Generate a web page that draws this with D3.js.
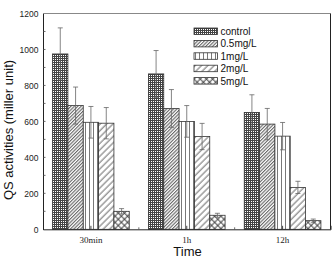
<!DOCTYPE html>
<html>
<head>
<meta charset="utf-8">
<script src="https://cdn.jsdelivr.net/npm/d3@7"></script>
<style>
  body { margin: 0; background: #fff; }
  svg { display: block; }
</style>
</head>
<body>
<div class="container"></div>
<script>
const width = 334;
const height = 265;

// data
const categories = ["30min", "1h", "12h"];
const series = ["control", "0.5mg/L", "1mg/L", "2mg/L", "5mg/L"];
const control = [975, 864, 650];
const mg05 = [688, 672, 585];
const mg1 = [595, 600, 518];
const mg2 = [590, 516, 233];
const mg5 = [100, 78, 48];
const controlErr = [145, 130, 98];
const mg05Err = [103, 105, 87];
const mg1Err = [88, 88, 76];
const mg2Err = [87, 73, 34];
const mg5Err = [15, 11, 9];
const yTicks = [0, 200, 400, 600, 800, 1000, 1200];

const values = [control, mg05, mg1, mg2, mg5];
const errors = [controlErr, mg05Err, mg1Err, mg2Err, mg5Err];
const patIds = ["pGrid", "pDense", "pVert", "pSparse", "pCross"];

const plot = {left: 43, right: 330.5, top: 13.5, bottom: 229.3};

const svg = d3.select(".container")
    .append("svg")
    .attr("width", width)
    .attr("height", height);

// hatch patterns
const defs = svg.append("defs");

let p = defs.append("pattern").attr("id", "pGrid")
    .attr("patternUnits", "userSpaceOnUse").attr("width", 2).attr("height", 2);
p.append("rect").attr("width", 2).attr("height", 2).attr("fill", "#fff");
p.append("rect").attr("width", 1).attr("height", 2).attr("fill", "#444");
p.append("rect").attr("width", 2).attr("height", 1).attr("fill", "#444");

p = defs.append("pattern").attr("id", "pDense")
    .attr("patternUnits", "userSpaceOnUse").attr("width", 2.4).attr("height", 2.4)
    .attr("patternTransform", "rotate(45)");
p.append("rect").attr("width", 2.4).attr("height", 2.4).attr("fill", "#fff");
p.append("line").attr("x1", 0.6).attr("y1", 0).attr("x2", 0.6).attr("y2", 2.4)
    .attr("stroke", "#444").attr("stroke-width", 0.9);

p = defs.append("pattern").attr("id", "pVert")
    .attr("patternUnits", "userSpaceOnUse").attr("width", 4).attr("height", 4);
p.append("rect").attr("width", 4).attr("height", 4).attr("fill", "#fff");
p.append("line").attr("x1", 1.5).attr("y1", 0).attr("x2", 1.5).attr("y2", 4)
    .attr("stroke", "#555").attr("stroke-width", 0.8);

p = defs.append("pattern").attr("id", "pSparse")
    .attr("patternUnits", "userSpaceOnUse").attr("width", 4.5).attr("height", 4.5)
    .attr("patternTransform", "rotate(45)");
p.append("rect").attr("width", 4.5).attr("height", 4.5).attr("fill", "#fff");
p.append("line").attr("x1", 1).attr("y1", 0).attr("x2", 1).attr("y2", 4.5)
    .attr("stroke", "#444").attr("stroke-width", 0.8);

p = defs.append("pattern").attr("id", "pCross")
    .attr("patternUnits", "userSpaceOnUse").attr("width", 4.4).attr("height", 4.4)
    .attr("patternTransform", "rotate(45)");
p.append("rect").attr("width", 4.4).attr("height", 4.4).attr("fill", "#fff");
p.append("line").attr("x1", 1).attr("y1", 0).attr("x2", 1).attr("y2", 4.4)
    .attr("stroke", "#333").attr("stroke-width", 0.9);
p.append("line").attr("x1", 0).attr("y1", 1).attr("x2", 4.4).attr("y2", 1)
    .attr("stroke", "#333").attr("stroke-width", 0.9);

const x0 = d3.scaleBand()
    .domain(categories)
    .range([plot.left, plot.right])
    .paddingInner(0.2)
    .paddingOuter(0.1);

const x1 = d3.scaleBand()
    .domain(series)
    .range([0, x0.bandwidth()]);

const y = d3.scaleLinear()
    .domain([0, 1200])
    .range([plot.bottom, plot.top]);

// bars
const rows = [];
series.forEach((s, i) => {
    categories.forEach((c, j) => {
        rows.push({s: s, c: c, v: values[i][j], e: errors[i][j], pat: patIds[i]});
    });
});

const g = svg.append("g");

g.selectAll("rect.bar")
    .data(rows)
    .enter()
    .append("rect")
    .attr("class", "bar")
    .attr("x", d => x0(d.c) + x1(d.s))
    .attr("y", d => y(d.v))
    .attr("width", x1.bandwidth())
    .attr("height", d => y(0) - y(d.v))
    .attr("fill", d => `url(#${d.pat})`)
    .attr("stroke", "#333")
    .attr("stroke-width", 0.8);

// error bars
const eb = g.selectAll("g.err")
    .data(rows)
    .enter()
    .append("g")
    .attr("class", "err")
    .attr("stroke", "#666")
    .attr("stroke-width", 0.8);

const cx = d => x0(d.c) + x1(d.s) + x1.bandwidth() / 2;
eb.append("line")
    .attr("x1", cx).attr("x2", cx)
    .attr("y1", d => y(d.v - d.e)).attr("y2", d => y(d.v + d.e));
eb.append("line")
    .attr("x1", d => cx(d) - 2.5).attr("x2", d => cx(d) + 2.5)
    .attr("y1", d => y(d.v + d.e)).attr("y2", d => y(d.v + d.e));
eb.append("line")
    .attr("x1", d => cx(d) - 2.5).attr("x2", d => cx(d) + 2.5)
    .attr("y1", d => y(d.v - d.e)).attr("y2", d => y(d.v - d.e));

// frame
svg.append("line")
    .attr("x1", plot.left).attr("x2", plot.right)
    .attr("y1", plot.top).attr("y2", plot.top)
    .attr("stroke", "#888").attr("stroke-width", 1);
svg.append("line")
    .attr("x1", plot.right).attr("x2", plot.right)
    .attr("y1", plot.top).attr("y2", plot.bottom)
    .attr("stroke", "#222").attr("stroke-width", 1);

// y axis
const yAxis = svg.append("g")
    .attr("transform", `translate(${plot.left},0)`)
    .call(d3.axisLeft(y).tickValues(yTicks).tickFormat(d3.format("d")).tickSize(0).tickPadding(4.5));
yAxis.select(".domain").attr("stroke", "#222");
yAxis.selectAll("text")
    .attr("font-family", "Liberation Sans, Arial, sans-serif")
    .attr("font-size", 8.5)
    .attr("fill", "#222");

svg.append("g")
    .selectAll("line")
    .data(d3.range(100, 1200, 100))
    .enter()
    .append("line")
    .attr("x1", plot.left).attr("x2", plot.left + 2.5)
    .attr("y1", d => y(d)).attr("y2", d => y(d))
    .attr("stroke", "#444").attr("stroke-width", 0.8);

// x axis
const xAxis = svg.append("g")
    .attr("transform", `translate(0,${plot.bottom})`)
    .call(d3.axisBottom(x0).tickSize(-3.5).tickPadding(7));
xAxis.select(".domain").attr("stroke", "#222");
xAxis.selectAll(".tick line").attr("stroke", "#444");
xAxis.selectAll("text")
    .attr("font-family", "Liberation Serif, Times New Roman, serif")
    .attr("font-size", 9)
    .attr("fill", "#222");

svg.append("g")
    .selectAll("line")
    .data(categories.slice(1))
    .enter()
    .append("line")
    .attr("x1", d => x0(d) - x0.step() * x0.paddingInner() / 2)
    .attr("x2", d => x0(d) - x0.step() * x0.paddingInner() / 2)
    .attr("y1", plot.bottom).attr("y2", plot.bottom - 2)
    .attr("stroke", "#444").attr("stroke-width", 0.8);

// axis titles
svg.append("text")
    .attr("x", 187.5).attr("y", 256)
    .attr("text-anchor", "middle")
    .attr("font-family", "Liberation Sans, Arial, sans-serif")
    .attr("font-size", 13)
    .attr("fill", "#111")
    .text("Time");

svg.append("text")
    .attr("transform", "translate(13,130) rotate(-90)")
    .attr("text-anchor", "middle")
    .attr("font-family", "Liberation Sans, Arial, sans-serif")
    .attr("font-size", 13)
    .attr("fill", "#111")
    .text("QS activities (miller unit)");

// legend
const legend = svg.append("g")
    .selectAll("g")
    .data(series)
    .enter()
    .append("g")
    .attr("transform", (d, i) => `translate(194,${28 + i * 12.4})`);

legend.append("rect")
    .attr("width", 23.5)
    .attr("height", 6.5)
    .attr("fill", (d, i) => `url(#${patIds[i]})`)
    .attr("stroke", "#333")
    .attr("stroke-width", 0.8);

legend.append("text")
    .attr("x", 26.5)
    .attr("y", 7)
    .attr("font-family", "Liberation Sans, Arial, sans-serif")
    .attr("font-size", 10)
    .attr("fill", "#111")
    .text(d => d);
</script>
</body>
</html>
